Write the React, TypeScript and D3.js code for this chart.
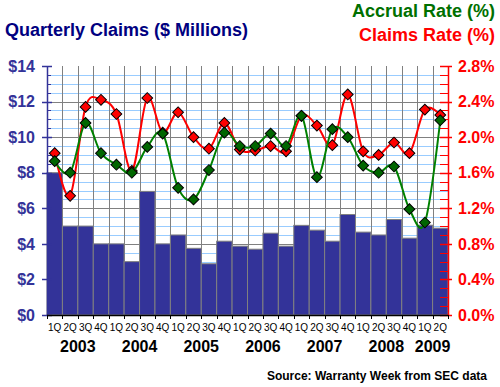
import React, { useEffect, useRef } from 'react';
import * as d3 from 'd3';

// quarters 2003 1Q .. 2009 2Q
const quarters = [
  '1Q', '2Q', '3Q', '4Q', '1Q', '2Q', '3Q', '4Q', '1Q', '2Q', '3Q', '4Q', '1Q',
  '2Q', '3Q', '4Q', '1Q', '2Q', '3Q', '4Q', '1Q', '2Q', '3Q', '4Q', '1Q', '2Q',
];
const years = ['2003', '2004', '2005', '2006', '2007', '2008', '2009'];
const quartersPerYear = [4, 4, 4, 4, 4, 4, 2];

const claims = [
  8.0, 5.0, 5.0, 4.0, 4.0, 3.0, 6.95, 4.0, 4.5, 3.75, 2.88, 4.15, 3.87,
  3.7, 4.6, 3.87, 5.04, 4.77, 4.15, 5.65, 4.66, 4.5, 5.37, 4.32, 5.05, 4.88,
];
const claimsRate = [
  1.82, 1.34, 2.34, 2.42, 2.26, 1.62, 2.44, 2.05, 2.28, 2.0, 1.87, 2.16, 1.86,
  1.85, 1.9, 1.84, 2.24, 2.13, 1.91, 2.48, 1.84, 1.8, 1.94, 1.82, 2.31, 2.25,
];
const accrualRate = [
  1.73, 1.6, 2.16, 1.82, 1.69, 1.6, 1.89, 2.04, 1.43, 1.3, 1.63, 2.05, 1.9,
  1.9, 2.04, 1.9, 2.24, 1.55, 2.09, 2.0, 1.68, 1.6, 1.67, 1.19, 1.04, 2.19,
];

const leftTicks = [0, 2, 4, 6, 8, 10, 12, 14];
const rightTicks = [0, 0.4, 0.8, 1.2, 1.6, 2.0, 2.4, 2.8];

const App: React.FC = () => {
  const ref = useRef<SVGSVGElement>(null);
  const W = 500;
  const H = 387;
  const margin = { top: 66, right: 52, bottom: 72, left: 47 };
  const width = W - margin.left - margin.right;
  const height = H - margin.top - margin.bottom;

  useEffect(() => {
    if (!ref.current) return;
    const root = d3.select(ref.current);
    root.selectAll('*').remove();
    const font = 'Arial, "Liberation Sans", Helvetica, sans-serif';

    const svg = root
      .append('g')
      .attr('transform', `translate(${margin.left},${margin.top})`);

    const idx = d3.range(quarters.length);
    const x = d3.scaleBand<number>().domain(idx).range([0, width]).padding(0);
    const y = d3.scaleLinear().domain([0, 14]).range([height, 0]);
    const yr = d3.scaleLinear().domain([0, 2.8]).range([height, 0]);
    const cx = (i: number) => x(i)! + x.bandwidth() / 2;
    const snap = (v: number) => Math.round(v) + 0.5;

    // minor horizontal grid (every $0.5)
    const minor = d3.range(0.5, 14.01, 0.5).filter((v) => v % 2 !== 0);
    svg
      .append('g')
      .selectAll('line')
      .data(minor)
      .join('line')
      .attr('x1', 0)
      .attr('x2', width)
      .attr('y1', (d) => snap(y(d)))
      .attr('y2', (d) => snap(y(d)))
      .attr('stroke', '#99ccff')
      .attr('stroke-width', 1);

    // major horizontal grid
    svg
      .append('g')
      .selectAll('line')
      .data(leftTicks.filter((d) => d > 0 && d < 14))
      .join('line')
      .attr('x1', 0)
      .attr('x2', width)
      .attr('y1', (d) => snap(y(d)))
      .attr('y2', (d) => snap(y(d)))
      .attr('stroke', '#808080')
      .attr('stroke-width', 1);

    // vertical grid at quarter boundaries
    svg
      .append('g')
      .selectAll('line')
      .data(idx.slice(1))
      .join('line')
      .attr('x1', (d) => snap(x(d)!))
      .attr('x2', (d) => snap(x(d)!))
      .attr('y1', 0)
      .attr('y2', height)
      .attr('stroke', '#808080')
      .attr('stroke-width', 1);

    // bars
    svg
      .append('g')
      .selectAll('rect')
      .data(claims)
      .join('rect')
      .attr('x', (_, i) => x(i)!)
      .attr('y', (d) => y(d))
      .attr('width', x.bandwidth())
      .attr('height', (d) => height - y(d))
      .attr('fill', '#333399')
      .attr('stroke', '#808080')
      .attr('stroke-width', 1);

    // left axis
    const leftAxis = svg.append('g');
    leftAxis
      .append('line')
      .attr('x1', 0.5)
      .attr('x2', 0.5)
      .attr('y1', 0)
      .attr('y2', height)
      .attr('stroke', '#333399')
      .attr('stroke-width', 1.5);
    leftAxis
      .selectAll('.minor')
      .data(minor)
      .join('line')
      .attr('x1', 0)
      .attr('x2', 4)
      .attr('y1', (d) => snap(y(d)))
      .attr('y2', (d) => snap(y(d)))
      .attr('stroke', '#333399');
    leftAxis
      .selectAll('.major')
      .data(leftTicks)
      .join('line')
      .attr('x1', -5)
      .attr('x2', 5)
      .attr('y1', (d) => snap(y(d)))
      .attr('y2', (d) => snap(y(d)))
      .attr('stroke', '#333399')
      .attr('stroke-width', 1.5);
    leftAxis
      .selectAll('text')
      .data(leftTicks)
      .join('text')
      .attr('x', -12)
      .attr('y', (d) => y(d))
      .attr('dy', '0.36em')
      .attr('text-anchor', 'end')
      .attr('font-family', font)
      .attr('font-weight', 'bold')
      .attr('font-size', 16)
      .attr('fill', '#333399')
      .text((d) => `$${d}`);

    // right axis
    const rightAxis = svg.append('g').attr('transform', `translate(${width},0)`);
    rightAxis
      .append('line')
      .attr('x1', 0.5)
      .attr('x2', 0.5)
      .attr('y1', 0)
      .attr('y2', height)
      .attr('stroke', '#ff0000')
      .attr('stroke-width', 1.5);
    rightAxis
      .selectAll('.minor')
      .data(
        d3
          .range(0.1, 2.81, 0.1)
          .filter((v) => Math.abs(v / 0.4 - Math.round(v / 0.4)) > 0.01)
      )
      .join('line')
      .attr('x1', -8)
      .attr('x2', 0)
      .attr('y1', (d) => snap(yr(d)))
      .attr('y2', (d) => snap(yr(d)))
      .attr('stroke', '#ff0000');
    rightAxis
      .selectAll('.major')
      .data(rightTicks)
      .join('line')
      .attr('x1', -8)
      .attr('x2', 4)
      .attr('y1', (d) => snap(yr(d)))
      .attr('y2', (d) => snap(yr(d)))
      .attr('stroke', '#ff0000')
      .attr('stroke-width', 1.5);
    rightAxis
      .selectAll('text')
      .data(rightTicks)
      .join('text')
      .attr('x', 10)
      .attr('y', (d) => yr(d))
      .attr('dy', '0.36em')
      .attr('font-family', font)
      .attr('font-weight', 'bold')
      .attr('font-size', 16)
      .attr('fill', '#ff0000')
      .text((d) => `${d.toFixed(1)}%`);

    // bottom axis
    const bottom = svg.append('g').attr('transform', `translate(0,${height})`);
    bottom
      .append('line')
      .attr('x1', 0)
      .attr('x2', width)
      .attr('y1', 0.5)
      .attr('y2', 0.5)
      .attr('stroke', '#000')
      .attr('stroke-width', 1.5);
    bottom
      .selectAll('.tick')
      .data(d3.range(quarters.length + 1))
      .join('line')
      .attr('x1', (d) => snap(d === quarters.length ? width : x(d)!))
      .attr('x2', (d) => snap(d === quarters.length ? width : x(d)!))
      .attr('y1', 0)
      .attr('y2', 4)
      .attr('stroke', '#000');
    bottom
      .selectAll('.q')
      .data(quarters)
      .join('text')
      .attr('x', (_, i) => cx(i))
      .attr('y', 15.5)
      .attr('text-anchor', 'middle')
      .attr('font-family', font)
      .attr('font-size', 10)
      .attr('fill', '#000')
      .text((d) => d);

    let start = 0;
    const yearPos = years.map((yv, k) => {
      const s = start;
      start += quartersPerYear[k];
      return { label: yv, mid: (cx(s) + cx(start - 1)) / 2 };
    });
    bottom
      .selectAll('.yr')
      .data(yearPos)
      .join('text')
      .attr('x', (d) => d.mid)
      .attr('y', 37)
      .attr('text-anchor', 'middle')
      .attr('font-family', font)
      .attr('font-weight', 'bold')
      .attr('font-size', 16)
      .attr('fill', '#000')
      .text((d) => d.label);

    // lines: claims rate under accrual rate
    const series = [
      { values: claimsRate, stroke: '#ff0000', fill: '#ff0000' },
      { values: accrualRate, stroke: '#008000', fill: '#006600' },
    ];
    const line = d3
      .line<number>()
      .x((_, i) => cx(i))
      .y((d) => yr(d))
      .curve(d3.curveCardinal.tension(0));
    const diamond = d3.symbol(d3.symbolSquare, 58);

    series.forEach((s) => {
      svg
        .append('path')
        .datum(s.values)
        .attr('fill', 'none')
        .attr('stroke', s.stroke)
        .attr('stroke-width', 2)
        .attr('d', line);
      svg
        .append('g')
        .selectAll('path')
        .data(s.values)
        .join('path')
        .attr('d', diamond)
        .attr('transform', (d, i) => `translate(${cx(i)},${yr(d)}) rotate(45)`)
        .attr('fill', s.fill)
        .attr('stroke', '#000')
        .attr('stroke-width', 1);
    });

    // titles
    root
      .append('text')
      .attr('x', 5)
      .attr('y', 36)
      .attr('font-family', font)
      .attr('font-weight', 'bold')
      .attr('font-size', 18)
      .attr('fill', '#000080')
      .text('Quarterly Claims ($ Millions)');
    root
      .append('text')
      .attr('x', 495)
      .attr('y', 17)
      .attr('text-anchor', 'end')
      .attr('font-family', font)
      .attr('font-weight', 'bold')
      .attr('font-size', 18)
      .attr('fill', '#007000')
      .text('Accrual Rate (%)');
    root
      .append('text')
      .attr('x', 495)
      .attr('y', 41)
      .attr('text-anchor', 'end')
      .attr('font-family', font)
      .attr('font-weight', 'bold')
      .attr('font-size', 18)
      .attr('fill', '#ff0000')
      .text('Claims Rate (%)');
    root
      .append('text')
      .attr('x', 487)
      .attr('y', 380)
      .attr('text-anchor', 'end')
      .attr('font-family', font)
      .attr('font-weight', 'bold')
      .attr('font-size', 12)
      .attr('fill', '#000')
      .text('Source: Warranty Week from SEC data');
  }, []);

  return (
    <svg
      ref={ref}
      width={W}
      height={H}
      style={{ position: 'absolute', left: 0, top: 0, background: '#fff' }}
    />
  );
};

export default App;
